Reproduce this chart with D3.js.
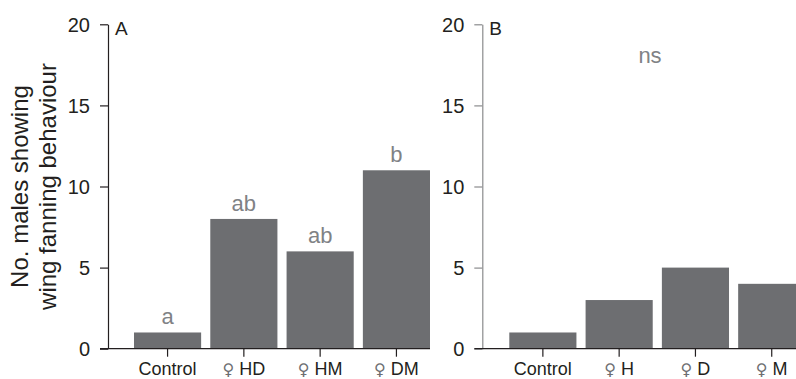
<!DOCTYPE html>
<html>
<head>
<meta charset="utf-8">
<script src="https://cdn.jsdelivr.net/npm/d3@7"></script>
<style>
  html, body { margin: 0; padding: 0; background: #fff; }
  svg { display: block; font-family: "Liberation Sans", Arial, sans-serif; }
</style>
</head>
<body>
<svg id="chart" width="796" height="379"></svg>
<script>
// ---- data ----
const categoriesA = ["Control", "HD", "HM", "DM"];
const valuesA = [1, 8, 6, 11];
const lettersA = ["a", "ab", "ab", "b"];
const femaleA = [false, true, true, true];

const categoriesB = ["Control", "H", "D", "M"];
const valuesB = [1, 3, 5, 4];
const femaleB = [false, true, true, true];
const annotationB = "ns";

const yTicks = [0, 5, 10, 15, 20];
const panelLabels = ["A", "B"];
const yTitleLines = ["No. males showing", "wing fanning behaviour"];

// ---- layout ----
const svg = d3.select("#chart");
const yTop = 24.3, yBottom = 348.7;
const barColor = "#6d6e71";
const textColor = "#231f20";
const letterColor = "#808285";

const y = d3.scaleLinear().domain([0, 20]).range([yBottom, yTop]);

function drawPanel(cfg) {
  const g = svg.append("g");
  const x = d3.scaleBand()
    .domain(cfg.categories)
    .range([cfg.bandStart, cfg.bandStart + 296])
    .paddingInner(0.12)
    .paddingOuter(0);

  // bars
  g.selectAll("rect.bar")
    .data(cfg.values)
    .join("rect")
    .attr("class", "bar")
    .attr("x", (d, i) => x(cfg.categories[i]))
    .attr("width", x.bandwidth())
    .attr("y", d => y(d))
    .attr("height", d => y(0) - y(d))
    .attr("fill", barColor);

  // y axis
  const yAxis = d3.axisLeft(y).tickValues(yTicks).tickSize(8).tickSizeOuter(0).tickPadding(10);
  const ya = g.append("g").attr("transform", `translate(${cfg.axisX},0)`).call(yAxis);
  ya.select(".domain").attr("stroke", cfg.axisColor).attr("stroke-width", 1.2);
  ya.selectAll(".tick line").attr("stroke", cfg.axisColor).attr("stroke-width", 1.2);
  ya.selectAll(".tick text")
    .attr("fill", textColor)
    .style("font-size", "20px")
    .style("font-family", "'Liberation Sans', Arial, sans-serif")
    .attr("dy", "0.36em");

  // x baseline
  g.append("line")
    .attr("x1", cfg.axisX - 8).attr("x2", x.range()[1])
    .attr("y1", y(0)).attr("y2", y(0))
    .attr("stroke", textColor).attr("stroke-width", 1.2);

  // x ticks and labels
  const xAxis = d3.axisBottom(x).tickSize(8).tickSizeOuter(0).tickFormat("");
  const xa = g.append("g").attr("transform", `translate(0,${y(0)})`).call(xAxis);
  xa.select(".domain").remove();
  xa.selectAll(".tick line").attr("stroke", textColor).attr("stroke-width", 1.2);

  cfg.categories.forEach((c, i) => {
    const t = g.append("text")
      .attr("x", x(c) + x.bandwidth() / 2)
      .attr("y", 375)
      .attr("text-anchor", "middle")
      .attr("fill", textColor)
      .style("font-size", "18px");
    if (cfg.female[i]) {
      t.append("tspan")
        .style("font-family", "'DejaVu Sans', sans-serif")
        .style("font-size", "16px")
        .attr("fill", "#6d6e71")
        .text("\u2640");
      t.append("tspan").text("\u00a0" + c);
    } else {
      t.text(c);
    }
  });

  // significance letters
  if (cfg.letters) {
    g.selectAll("text.letter")
      .data(cfg.values)
      .join("text")
      .attr("class", "letter")
      .attr("x", (d, i) => x(cfg.categories[i]) + x.bandwidth() / 2)
      .attr("y", d => y(d) - 8)
      .attr("text-anchor", "middle")
      .attr("fill", letterColor)
      .style("font-size", "22px")
      .text((d, i) => cfg.letters[i]);
  }
  if (cfg.annotation) {
    g.append("text")
      .attr("x", cfg.annotationX)
      .attr("y", 63)
      .attr("text-anchor", "middle")
      .attr("fill", letterColor)
      .style("font-size", "22px")
      .text(cfg.annotation);
  }

  // panel label
  g.append("text")
    .attr("x", cfg.axisX + 7)
    .attr("y", 34.5)
    .attr("fill", textColor)
    .style("font-size", "19px")
    .text(cfg.label);
}

drawPanel({
  categories: categoriesA, values: valuesA, letters: lettersA, female: femaleA,
  axisX: 108, bandStart: 134, axisColor: "#231f20", label: panelLabels[0]
});
drawPanel({
  categories: categoriesB, values: valuesB, female: femaleB,
  annotation: annotationB, annotationX: 650,
  axisX: 482.3, bandStart: 509.3, axisColor: "#8a8b8d", label: panelLabels[1]
});

// y axis title
const titleG = svg.append("g")
  .attr("transform", `translate(28,${(yTop + yBottom) / 2}) rotate(-90)`);
yTitleLines.forEach((line, i) => {
  titleG.append("text")
    .attr("x", 0)
    .attr("y", i * 28)
    .attr("text-anchor", "middle")
    .attr("fill", textColor)
    .style("font-size", "24px")
    .text(line);
});
</script>
</body>
</html>
